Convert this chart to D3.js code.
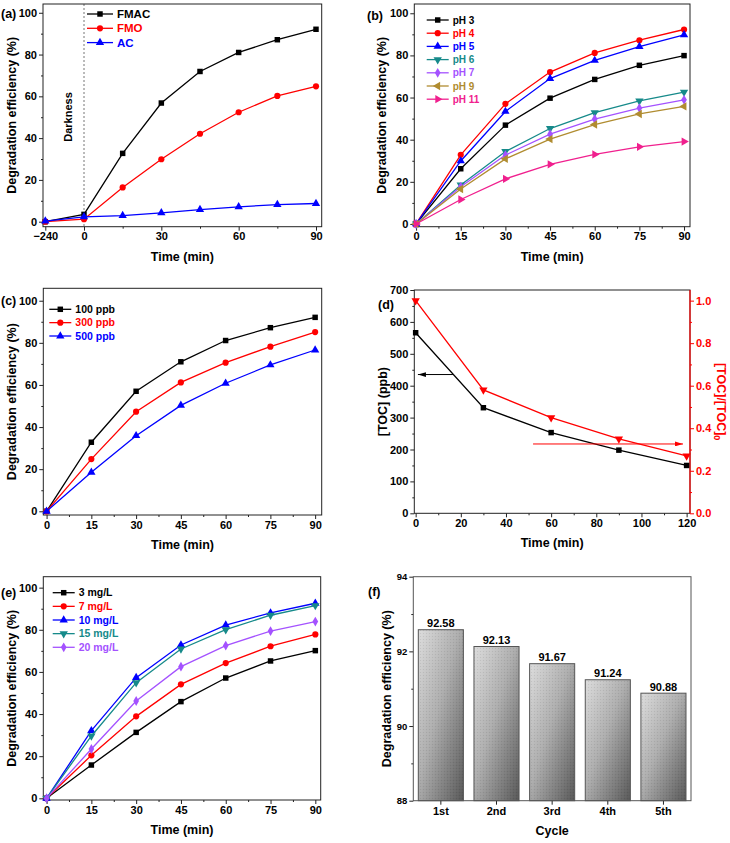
<!DOCTYPE html>
<html>
<head>
<meta charset="utf-8">
<script src="https://cdn.jsdelivr.net/npm/d3@7"></script>
<style>
  body { margin: 0; background: #fff; }
  svg { display: block; }
  text { font-family: "Liberation Sans", Arial, sans-serif; font-weight: bold; }
</style>
</head>
<body>
<script>
"use strict";

/* global d3 */

// ---- data ----
let timeA = [-240, 0, 15, 30, 45, 60, 75, 90];
let fmac = [0, 3.5, 32.7, 56.8, 71.9, 81.0, 87.1, 92.1];
let fmo = [0, 1.2, 16.4, 29.9, 42.1, 52.4, 60.2, 64.8];
let acOnly = [0.3, 2.3, 2.9, 4.2, 5.8, 7.1, 8.2, 8.7];

let time = [0, 15, 30, 45, 60, 75, 90];
let pH3 = [0, 26.2, 46.9, 59.7, 68.6, 75.3, 79.9];
let pH4 = [0, 32.8, 57.0, 72.1, 81.2, 87.2, 92.3];
let pH5 = [0, 29.9, 53.4, 69.0, 77.6, 84.2, 89.8];
let pH6 = [0, 18.5, 34.4, 45.3, 52.8, 58.4, 62.6];
let pH7 = [0, 17.7, 32.7, 42.6, 49.8, 55.0, 58.9];
let pH9 = [0, 16.6, 30.9, 40.3, 47.2, 52.2, 55.8];
let pH11 = [0, 11.6, 21.4, 28.3, 33.0, 36.6, 39.1];

let ppb100 = [0, 32.8, 57.0, 71.0, 81.1, 87.2, 92.1];
let ppb300 = [0, 24.8, 47.3, 61.2, 70.6, 78.2, 85.1];
let ppb500 = [0, 18.5, 35.9, 50.3, 60.8, 69.5, 76.6];

let timeD = [0, 30, 60, 90, 120];
let tocPpb = [566, 331, 253, 198, 150];
let tocRatio = [1.0, 0.58, 0.45, 0.35, 0.27];

let mg3 = [0, 15.8, 31.3, 45.9, 57.1, 65.2, 70.1];
let mg7 = [0, 20.4, 38.9, 54.1, 64.2, 72.2, 77.8];
let mg10 = [0, 32.1, 57.3, 72.8, 82.2, 88.0, 92.6];
let mg15 = [0, 29.6, 54.9, 70.9, 80.1, 86.9, 91.5];
let mg20 = [0, 23.4, 46.2, 62.5, 72.5, 79.4, 83.9];

let cycles = ['1st', '2nd', '3rd', '4th', '5th'];
let cycleEff = [92.58, 92.13, 91.67, 91.24, 90.88];

let timeTicks = [0, 15, 30, 45, 60, 75, 90];
let timeMinor = [7.5, 22.5, 37.5, 52.5, 67.5, 82.5];
let effTicks = [0, 20, 40, 60, 80, 100];
let effMinor = [10, 30, 50, 70, 90];

// ---- styling ----
let C = {
  black: '#000000', red: '#ff0000', blue: '#0000ff', teal: '#168a8a',
  violet: '#a452ff', olive: '#b08c30', pink: '#f0208e'
};

let translateStr = (x, y) => 'translate(' + x + ', ' + y + ')';

let svg = d3.select('body').append('svg')
  .attr('width', 730)
  .attr('height', 843);

let defs = svg.append('defs');

let symbols = {
  square: { type: d3.symbolSquare, size: 30, rot: 0 },
  circle: { type: d3.symbolCircle, size: 30, rot: 0 },
  up: { type: d3.symbolTriangle, size: 30, rot: 0 },
  down: { type: d3.symbolTriangle, size: 30, rot: 180 },
  left: { type: d3.symbolTriangle, size: 30, rot: -90 },
  right: { type: d3.symbolTriangle, size: 30, rot: 90 },
  diamond: { type: d3.symbolDiamond, size: 28, rot: 0 }
};

function drawMarker(g, shape, color, cx, cy) {
  let s = symbols[shape];
  g.append('path')
    .attr('d', d3.symbol().type(s.type).size(s.size)())
    .attr('transform', translateStr(cx, cy) + ' rotate(' + s.rot + ')')
    .attr('fill', color);
}

function styleAxis(a, size) {
  a.attr('font-size', size || 11)
    .attr('font-family', '"Liberation Sans", Arial, sans-serif')
    .attr('font-weight', 'bold');
  a.select('.domain').remove();
  a.selectAll('line').attr('stroke', '#222');
}

function frame(g, b, color) {
  g.append('rect')
    .attr('x', b.left)
    .attr('y', b.top)
    .attr('width', b.right - b.left)
    .attr('height', b.bottom - b.top)
    .attr('fill', 'none')
    .attr('stroke', color || '#222')
    .attr('stroke-width', 1);
}

function bottomAxis(g, b, x, ticks, minor, fmt) {
  g.append('g')
    .attr('transform', translateStr(0, b.bottom))
    .call(d3.axisBottom(x).tickValues(minor).tickSize(2).tickFormat(''))
    .call(styleAxis);
  g.append('g')
    .attr('transform', translateStr(0, b.bottom))
    .call(d3.axisBottom(x).tickValues(ticks).tickSize(4).tickPadding(2)
      .tickFormat(fmt || d3.format('d')))
    .call(styleAxis);
}

function leftAxis(g, b, y, ticks, minor, fmt, size) {
  g.append('g')
    .attr('transform', translateStr(b.left, 0))
    .call(d3.axisLeft(y).tickValues(minor).tickSize(2).tickFormat(''))
    .call(styleAxis);
  g.append('g')
    .attr('transform', translateStr(b.left, 0))
    .call(d3.axisLeft(y).tickValues(ticks).tickSize(4).tickPadding(2)
      .tickFormat(fmt || d3.format('d')))
    .call(a => styleAxis(a, size));
}

function titles(g, b, p) {
  g.append('text')
    .attr('x', p.tag[0])
    .attr('y', p.tag[1])
    .attr('font-size', 12.5)
    .text(p.tagText);
  g.append('text')
    .attr('transform', translateStr(p.yTitleX, (b.top + b.bottom) / 2) + ' rotate(-90)')
    .attr('text-anchor', 'middle')
    .attr('font-size', 12.5)
    .text(p.yTitle || 'Degradation efficiency (%)');
  g.append('text')
    .attr('x', (b.left + b.right) / 2)
    .attr('y', b.bottom + 34)
    .attr('text-anchor', 'middle')
    .attr('font-size', 12.5)
    .text(p.xTitle || 'Time (min)');
}

function legend(g, p) {
  let L = p.legend;
  p.series.forEach((s, i) => {
    let ly = L.y + i * L.step;
    g.append('line')
      .attr('x1', L.x).attr('x2', L.x + L.len)
      .attr('y1', ly).attr('y2', ly)
      .attr('stroke', s.color).attr('stroke-width', 1.3);
    drawMarker(g, s.shape, s.color, L.x + L.len / 2, ly);
    g.append('text')
      .attr('x', L.x + L.len + 4)
      .attr('y', ly)
      .attr('dy', '0.36em')
      .attr('font-size', L.size)
      .attr('fill', s.color)
      .text(s.name);
  });
}

function linePanel(p) {
  let b = p.box;
  let g = svg.append('g');
  let x = p.x || d3.scaleLinear().domain(p.xDomain).range([b.left, b.right]);
  let y = d3.scaleLinear().domain(p.yDomain).range([b.bottom, b.top]);

  if (p.extra) p.extra(g, x, y);

  bottomAxis(g, b, x, p.xTicks, p.xMinor, p.xFormat);
  leftAxis(g, b, y, effTicks, effMinor);
  frame(g, b);

  let line = d3.line()
    .x(d => x(d.x))
    .y(d => y(d.y));

  p.series.forEach(s => {
    let pts = p.xs.map((t, i) => ({ x: t, y: s.values[i] }));
    g.append('path')
      .datum(pts)
      .attr('d', line)
      .attr('fill', 'none')
      .attr('stroke', s.color)
      .attr('stroke-width', 1.3);
    pts.forEach(d => drawMarker(g, s.shape, s.color, x(d.x), y(d.y)));
  });

  legend(g, p);
  titles(g, b, p);
}

// ---- (a) ----
let boxA = { left: 43, right: 321.7, top: 4, bottom: 226.7 };
linePanel({
  box: boxA,
  x: d3.scaleLinear().domain([-240, 0, 90]).range([45.3, 84, 316]),
  yDomain: [-2.4, 104.2],
  xs: timeA,
  xTicks: [-240, 0, 30, 60, 90],
  xMinor: [15, 45, 75],
  series: [
    { name: 'FMAC', values: fmac, color: C.black, shape: 'square' },
    { name: 'FMO', values: fmo, color: C.red, shape: 'circle' },
    { name: 'AC', values: acOnly, color: C.blue, shape: 'up' }
  ],
  legend: { x: 87, y: 14, step: 14.3, len: 26, size: 11.5 },
  tag: [1, 18], tagText: '(a)',
  yTitleX: 15.5,
  extra: (g, x) => {
    g.append('line')
      .attr('x1', x(0)).attr('x2', x(0))
      .attr('y1', boxA.top).attr('y2', boxA.bottom)
      .attr('stroke', '#777').attr('stroke-width', 1)
      .attr('stroke-dasharray', '2,2');
    g.append('text')
      .attr('transform', translateStr(71.5, 117) + ' rotate(-90)')
      .attr('text-anchor', 'middle')
      .attr('font-size', 11)
      .text('Darkness');
  }
});

// ---- (b) ----
linePanel({
  box: { left: 414.3, right: 690, top: 4, bottom: 226.7 },
  xDomain: [-0.6, 92],
  yDomain: [-1.3, 104.4],
  xs: time,
  xTicks: timeTicks,
  xMinor: timeMinor,
  series: [
    { name: 'pH 3', values: pH3, color: C.black, shape: 'square' },
    { name: 'pH 4', values: pH4, color: C.red, shape: 'circle' },
    { name: 'pH 5', values: pH5, color: C.blue, shape: 'up' },
    { name: 'pH 6', values: pH6, color: C.teal, shape: 'down' },
    { name: 'pH 7', values: pH7, color: C.violet, shape: 'diamond' },
    { name: 'pH 9', values: pH9, color: C.olive, shape: 'left' },
    { name: 'pH 11', values: pH11, color: C.pink, shape: 'right' }
  ],
  legend: { x: 426.7, y: 20, step: 13.2, len: 22, size: 10 },
  tag: [367, 20], tagText: '(b)',
  yTitleX: 385.5
});

// ---- (c) ----
linePanel({
  box: { left: 43.3, right: 321.7, top: 288.3, bottom: 515 },
  xDomain: [-1.1, 92.2],
  yDomain: [-1.76, 105.9],
  xs: time,
  xTicks: timeTicks,
  xMinor: timeMinor,
  series: [
    { name: '100 ppb', values: ppb100, color: C.black, shape: 'square' },
    { name: '300 ppb', values: ppb300, color: C.red, shape: 'circle' },
    { name: '500 ppb', values: ppb500, color: C.blue, shape: 'up' }
  ],
  legend: { x: 49.3, y: 309.3, step: 13.35, len: 22, size: 10.5 },
  tag: [1, 305], tagText: '(c)',
  yTitleX: 15.5
});

// ---- (d) ----
(function () {
  let b = { left: 414.3, right: 690, top: 290, bottom: 513.3 };
  let g = svg.append('g');
  let x = d3.scaleLinear().domain([-0.6, 121.5]).range([b.left, b.right]);
  let yL = d3.scaleLinear().domain([0, 700]).range([b.bottom, b.top]);
  let yR = d3.scaleLinear().domain([0, 1.05]).range([b.bottom, b.top]);

  bottomAxis(g, b, x, [0, 20, 40, 60, 80, 100, 120], [10, 30, 50, 70, 90, 110]);
  leftAxis(g, b, yL, d3.range(0, 701, 100), d3.range(50, 700, 100));
  frame(g, b);

  let right = g.append('g').attr('transform', translateStr(b.right, 0));
  right.append('g')
    .call(d3.axisRight(yR).tickValues([0.1, 0.3, 0.5, 0.7, 0.9]).tickSize(2).tickFormat(''))
    .call(styleAxis);
  right.append('g')
    .call(d3.axisRight(yR).tickValues([0, 0.2, 0.4, 0.6, 0.8, 1.0]).tickSize(4).tickPadding(2)
      .tickFormat(d3.format('.1f')))
    .call(styleAxis);
  right.selectAll('line').attr('stroke', C.red);
  right.selectAll('text').attr('fill', C.red);
  right.append('line')
    .attr('y1', b.top).attr('y2', b.bottom)
    .attr('stroke', C.red).attr('stroke-width', 1.2);

  [['arrBlack', C.black], ['arrRed', C.red]].forEach(m => {
    defs.append('marker')
      .attr('id', m[0])
      .attr('viewBox', '0 0 10 6')
      .attr('refX', 10).attr('refY', 3)
      .attr('markerWidth', 8).attr('markerHeight', 5)
      .attr('markerUnits', 'userSpaceOnUse')
      .attr('orient', 'auto')
      .append('path')
      .attr('d', 'M0,0 L10,3 L0,6 Z')
      .attr('fill', m[1]);
  });

  let lineL = d3.line().x((d, i) => x(timeD[i])).y(d => yL(d));
  let lineR = d3.line().x((d, i) => x(timeD[i])).y(d => yR(d));

  g.append('path').datum(tocPpb).attr('d', lineL)
    .attr('fill', 'none').attr('stroke', C.black).attr('stroke-width', 1.3);
  tocPpb.forEach((v, i) => drawMarker(g, 'square', C.black, x(timeD[i]), yL(v)));

  g.append('path').datum(tocRatio).attr('d', lineR)
    .attr('fill', 'none').attr('stroke', C.red).attr('stroke-width', 1.3);
  tocRatio.forEach((v, i) => drawMarker(g, 'down', C.red, x(timeD[i]), yR(v)));

  g.append('line')
    .attr('x1', x(16.5)).attr('x2', x(1))
    .attr('y1', yL(435)).attr('y2', yL(435))
    .attr('stroke', C.black).attr('stroke-width', 1)
    .attr('marker-end', 'url(#arrBlack)');
  g.append('line')
    .attr('x1', x(52)).attr('x2', x(118.4))
    .attr('y1', yR(0.326)).attr('y2', yR(0.326))
    .attr('stroke', C.red).attr('stroke-width', 1)
    .attr('marker-end', 'url(#arrRed)');

  titles(g, b, {
    tag: [378, 309], tagText: '(d)',
    yTitleX: 386.5, yTitle: '[TOC] (ppb)'
  });

  let rt = g.append('text')
    .attr('transform', translateStr(716.5, (b.top + b.bottom) / 2) + ' rotate(90)')
    .attr('text-anchor', 'middle')
    .attr('font-size', 12.5)
    .attr('fill', C.red);
  rt.append('tspan').text('[TOC]/[TOC]');
  rt.append('tspan').attr('dy', 3).attr('font-size', 9).text('0');
})();

// ---- (e) ----
linePanel({
  box: { left: 43.3, right: 320.7, top: 576.7, bottom: 800 },
  xDomain: [-1.1, 91.8],
  yDomain: [-0.8, 105.2],
  xs: time,
  xTicks: timeTicks,
  xMinor: timeMinor,
  series: [
    { name: '3 mg/L', values: mg3, color: C.black, shape: 'square' },
    { name: '7 mg/L', values: mg7, color: C.red, shape: 'circle' },
    { name: '10 mg/L', values: mg10, color: C.blue, shape: 'up' },
    { name: '15 mg/L', values: mg15, color: C.teal, shape: 'down' },
    { name: '20 mg/L', values: mg20, color: C.violet, shape: 'diamond' }
  ],
  legend: { x: 52.7, y: 592.7, step: 13.65, len: 22, size: 10.5 },
  tag: [1, 597], tagText: '(e)',
  yTitleX: 15.5
});

// ---- (f) ----
(function () {
  let b = { left: 413.3, right: 691, top: 576.7, bottom: 800.7 };
  let g = svg.append('g');
  let x = d3.scaleBand().domain(cycles).range([b.left, b.right])
    .paddingInner(0.19).paddingOuter(0.09);
  let y = d3.scaleLinear().domain([88, 94]).range([b.bottom, b.top]);

  let grad = defs.append('linearGradient')
    .attr('id', 'barGrad')
    .attr('x1', 0).attr('y1', 0).attr('x2', 1).attr('y2', 1);
  grad.append('stop').attr('offset', 0).attr('stop-color', '#dcdcdc');
  grad.append('stop').attr('offset', 0.45).attr('stop-color', '#aeaeae');
  grad.append('stop').attr('offset', 1).attr('stop-color', '#575757');

  let tex = defs.append('pattern')
    .attr('id', 'barTex')
    .attr('width', 3).attr('height', 3)
    .attr('patternUnits', 'userSpaceOnUse');
  tex.append('rect').attr('width', 1).attr('height', 1).attr('fill', 'rgba(0,0,0,0.08)');
  tex.append('rect').attr('x', 1.5).attr('y', 1.5).attr('width', 1).attr('height', 1)
    .attr('fill', 'rgba(255,255,255,0.08)');

  cycles.forEach((c, i) => {
    let bx = x(c), bw = x.bandwidth(), by = y(cycleEff[i]);
    g.append('rect')
      .attr('x', bx).attr('y', by)
      .attr('width', bw).attr('height', b.bottom - by)
      .attr('fill', 'url(#barGrad)');
    g.append('rect')
      .attr('x', bx).attr('y', by)
      .attr('width', bw).attr('height', b.bottom - by)
      .attr('fill', 'url(#barTex)')
      .attr('stroke', '#555').attr('stroke-width', 1);
    g.append('text')
      .attr('x', bx + bw / 2)
      .attr('y', by - 2.5)
      .attr('text-anchor', 'middle')
      .attr('font-size', 11)
      .text(cycleEff[i].toFixed(2));
  });

  g.append('g')
    .attr('transform', translateStr(0, b.bottom))
    .call(d3.axisBottom(x).tickSize(4).tickPadding(3))
    .call(styleAxis);
  leftAxis(g, b, y, [88, 90, 92, 94], [89, 91, 93], d3.format('d'), 9.5);
  frame(g, b, '#555');

  titles(g, b, {
    tag: [368, 596], tagText: '(f)',
    yTitleX: 390.5, xTitle: 'Cycle'
  });
})();
</script>
</body>
</html>
